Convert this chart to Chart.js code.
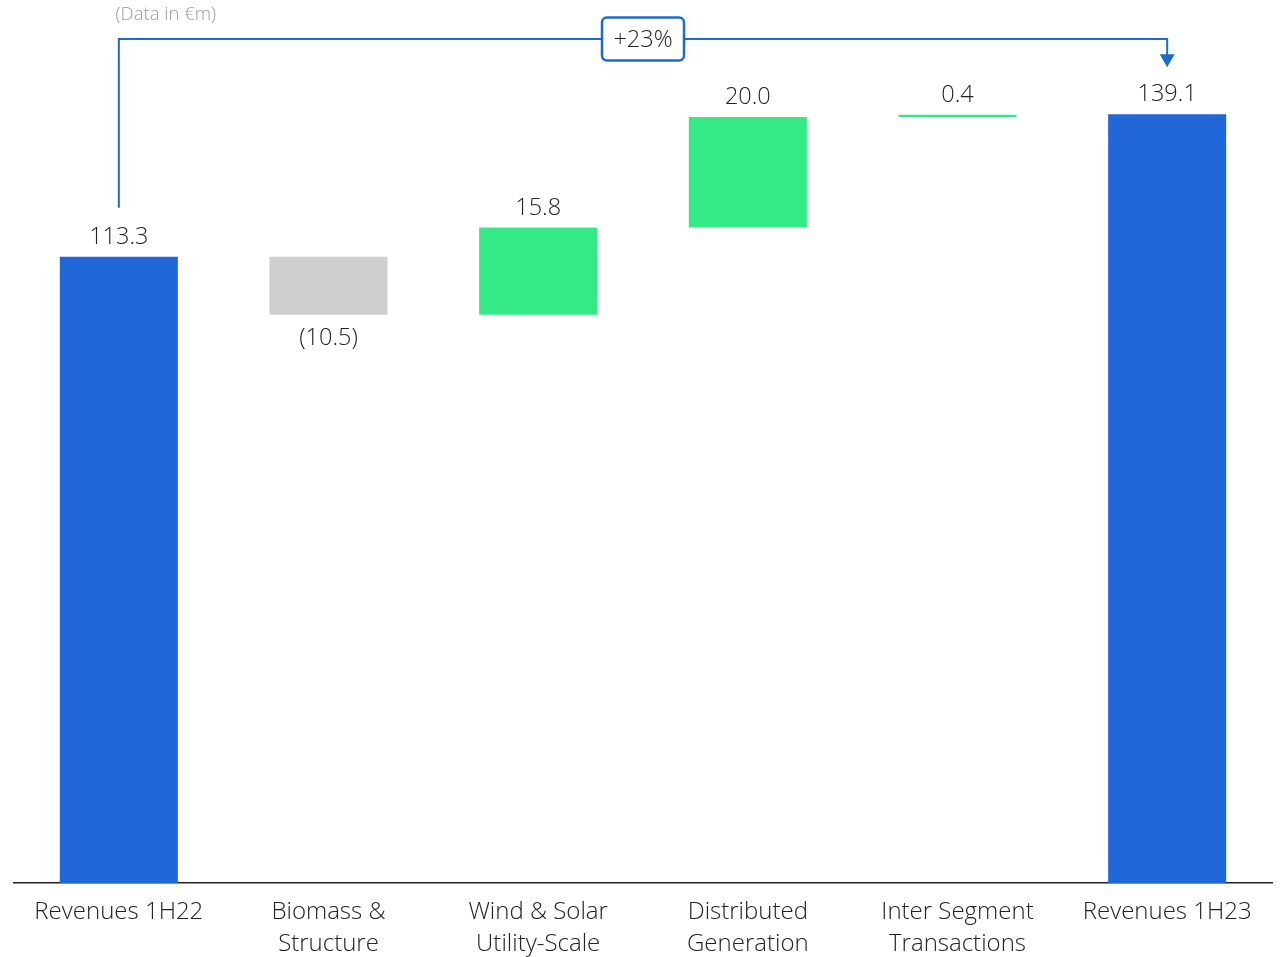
<!DOCTYPE html>
<html>
<head>
<meta charset="utf-8">
<script src="https://cdn.jsdelivr.net/npm/chart.js@4/dist/chart.umd.min.js"></script>
<style>
html,body{margin:0;padding:0;background:#fff;}
canvas{display:block;}
</style>
</head>
<body>
<canvas id="c" width="1286" height="957"></canvas>
<script>
const categories = [["Revenues 1H22"], ["Biomass &", "Structure"], ["Wind & Solar", "Utility-Scale"], ["Distributed", "Generation"], ["Inter Segment", "Transactions"], ["Revenues 1H23"]];
const deltas = [113.3, -10.5, 15.8, 20.0, 0.4, 139.1];
const valueLabels = ["113.3", "(10.5)", "15.8", "20.0", "0.4", "139.1"];
const kinds = ["total", "change", "change", "change", "change", "total"];
const growthLabel = "+23%";
const unitNote = "(Data in €m)";

const COL_TOTAL = "#2167d9", COL_UP = "#34ea85", COL_DOWN = "#d0cfd0";
const FONT = "'Open Sans', 'Noto Sans', sans-serif";

// build floating ranges
let running = 0;
const ranges = deltas.map((d, i) => {
  if (kinds[i] === "total") { running = d; return [0, d]; }
  const s = running; running = running + d; return [s, running];
});
const colors = deltas.map((d, i) => kinds[i] === "total" ? COL_TOTAL : (d < 0 ? COL_DOWN : COL_UP));

const labelPlugin = {
  id: "labels",
  afterDatasetsDraw(chart) {
    const ctx = chart.ctx;
    const meta = chart.getDatasetMeta(0);
    ctx.save();
    ctx.font = "300 23.5px " + FONT;
    ctx.fillStyle = "#222";
    ctx.textAlign = "center";
    ctx.textBaseline = "middle";
    meta.data.forEach((bar, i) => {
      const r = ranges[i];
      const y = chart.scales.y;
      if (deltas[i] < 0) {
        ctx.fillText(valueLabels[i], bar.x, y.getPixelForValue(Math.min(r[0], r[1])) + 23.5);
      } else {
        ctx.fillText(valueLabels[i], bar.x, y.getPixelForValue(Math.max(r[0], r[1])) - 19.5);
      }
    });
    // growth annotation
    const xs = chart.scales.x, ys = chart.scales.y;
    const x0 = xs.getPixelForValue(0), x1 = xs.getPixelForValue(deltas.length - 1);
    const yLine = 39;
    const yStart = ys.getPixelForValue(ranges[0][1]) - 49;
    const yArrowTip = ys.getPixelForValue(ranges[ranges.length - 1][1]) - 47;
    ctx.strokeStyle = "#1b6ccf";
    ctx.lineWidth = 2;
    ctx.beginPath();
    ctx.moveTo(x0, yStart);
    ctx.lineTo(x0, yLine);
    ctx.lineTo(x1, yLine);
    ctx.lineTo(x1, yArrowTip - 12);
    ctx.stroke();
    ctx.fillStyle = "#1b6ccf";
    ctx.beginPath();
    ctx.moveTo(x1 - 7.5, yArrowTip - 13);
    ctx.lineTo(x1 + 7.5, yArrowTip - 13);
    ctx.lineTo(x1, yArrowTip);
    ctx.closePath();
    ctx.fill();
    // box
    const cx = (x0 + x1) / 2, bw = 82, bh = 43, r = 5;
    const bx = cx - bw / 2, by = yLine - bh / 2;
    ctx.beginPath();
    ctx.roundRect(bx, by, bw, bh, r);
    ctx.fillStyle = "#fff";
    ctx.fill();
    ctx.lineWidth = 2.5;
    ctx.stroke();
    ctx.fillStyle = "#222";
    ctx.font = "300 23.5px " + FONT;
    ctx.fillText(growthLabel, cx, yLine + 1.5);
    // unit note
    ctx.font = "300 18.5px " + FONT;
    ctx.fillStyle = "#9a9a9a";
    ctx.fillText(unitNote, x0 + 47, 15);
    ctx.restore();
  }
};

new Chart(document.getElementById("c"), {
  type: "bar",
  data: {
    labels: categories,
    datasets: [{
      data: ranges,
      backgroundColor: colors,
      borderWidth: 0,
      borderSkipped: false,
      barPercentage: 0.563,
      categoryPercentage: 1.0
    }]
  },
  options: {
    responsive: false,
    animation: false,
    layout: { padding: { top: 54, left: 14, right: 14, bottom: 0 } },
    plugins: { legend: { display: false }, tooltip: { enabled: false } },
    scales: {
      y: { display: false, min: 0, max: 150 },
      x: {
        grid: { display: false, drawTicks: false },
        border: { display: true, color: "#222", width: 1.5 },
        ticks: {
          color: "#222",
          font: { family: FONT, size: 24, weight: 300, lineHeight: 1.36 },
          padding: 12.5,
          maxRotation: 0,
          autoSkip: false
        },
        afterFit(scale) { scale.height = 74; }
      }
    }
  },
  plugins: [labelPlugin]
});
</script>
</body>
</html>
